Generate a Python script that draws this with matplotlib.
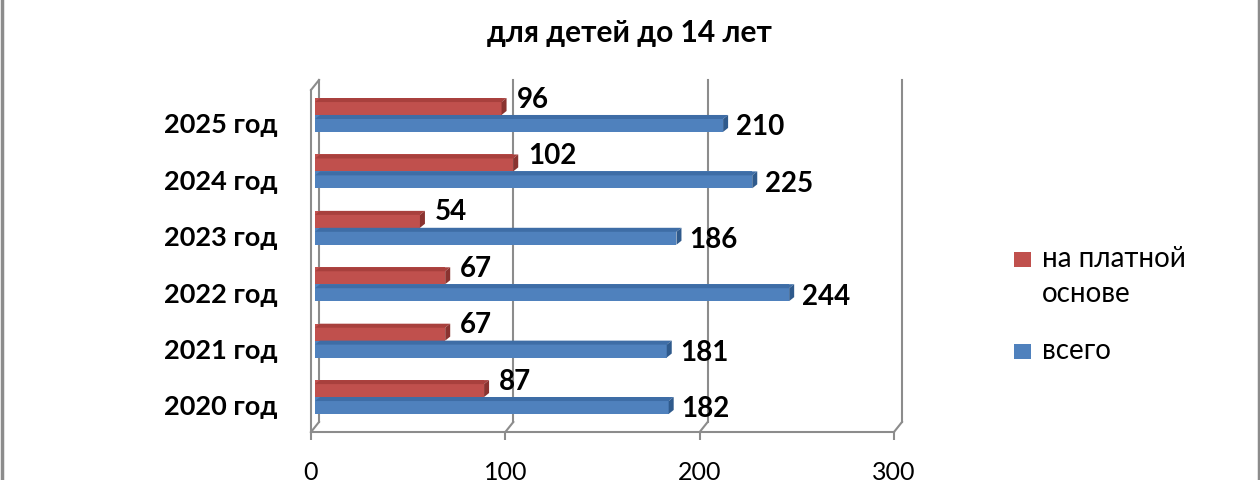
import matplotlib
matplotlib.use("Agg")
import matplotlib.pyplot as plt
from matplotlib.patches import Polygon, Rectangle
from matplotlib.lines import Line2D
from matplotlib.transforms import ScaledTranslation

categories = ["2020 год", "2021 год", "2022 год", "2023 год", "2024 год", "2025 год"]
paid = [87, 67, 67, 54, 102, 96]
total = [182, 181, 244, 186, 225, 210]
series_names = ["на платной\nоснове", "всего"]
x_ticks = [0, 100, 200, 300]
title_text = "для детей до 14 лет"

plt.rcParams['font.family'] = ['Lato', 'DejaVu Sans']

W, H = 1260, 480
fig = plt.figure(figsize=(12.6, 4.8), dpi=100)
ax_l, ax_r, ax_b, ax_t = 311, 894, 432, 80
ax = fig.add_axes([ax_l / W, (H - ax_b) / H, (ax_r - ax_l) / W, (ax_b - ax_t) / H])
ylo, yhi = -0.62, 5.62
ax.set_xlim(0, 300)
ax.set_ylim(ylo, yhi)
pxx = (ax_r - ax_l) / 300.0
pxy = (ax_b - ax_t) / (yhi - ylo)

grid_c = "#8c8c8c"
red_f, red_t, red_s = "#C0504D", "#A8403D", "#8A3330"
blue_f, blue_t, blue_s = "#4F81BD", "#3E6DA6", "#2F5A8C"

# walls / gridlines (3D look)
ddx, ddy = 8 / pxx, 10 / pxy
ytop_front = yhi - ddy
for v in x_ticks:
    ax.plot([v + ddx, v + ddx], [ylo + ddy, yhi], color=grid_c, lw=1.5, zorder=1, clip_on=False)
    ax.plot([v, v + ddx], [ylo, ylo + ddy], color=grid_c, lw=1.5, zorder=1, clip_on=False)
ax.plot([0, 0], [ylo, ytop_front], color=grid_c, lw=1.5, zorder=1, clip_on=False)
ax.plot([0, ddx], [ytop_front, yhi], color=grid_c, lw=1.5, zorder=1, clip_on=False)
ax.plot([0, 300], [ylo, ylo], color=grid_c, lw=1.5, zorder=1, clip_on=False)

# bars
shift = ScaledTranslation(4 / 100, 0, fig.dpi_scale_trans)
tr = ax.transData + shift
bh = 0.3
bdx, bdy = 5 / pxx, 4 / pxy
for i in range(len(categories)):
    for val, yc, cf, ct, cs in [(paid[i], i + bh / 2, red_f, red_t, red_s),
                                (total[i], i - bh / 2, blue_f, blue_t, blue_s)]:
        y0, y1 = yc - bh / 2, yc + bh / 2
        front = Polygon([(0, y0), (val, y0), (val, y1), (0, y1)], closed=True,
                        facecolor=cf, edgecolor="none", transform=tr, zorder=3)
        top = Polygon([(0, y1 - bdy), (val, y1 - bdy), (val + bdx, y1), (bdx, y1)], closed=True,
                      facecolor=ct, edgecolor="none", transform=tr, zorder=3.1)
        side = Polygon([(val, y0), (val + bdx, y0 + bdy), (val + bdx, y1), (val, y1 - bdy)], closed=True,
                       facecolor=cs, edgecolor="none", transform=tr, zorder=3.2)
        for p in (front, top, side):
            ax.add_patch(p)
    ax.annotate(str(paid[i]), (paid[i], i + bh / 2), xytext=(19 * 0.72, 7 * 0.72),
                textcoords="offset points", ha="left", va="center",
                fontsize=20, fontweight="bold", color="black", zorder=5)
    ax.annotate(str(total[i]), (total[i], i - bh / 2), xytext=(17 * 0.72, -4 * 0.72),
                textcoords="offset points", ha="left", va="center",
                fontsize=20, fontweight="bold", color="black", zorder=5)

for s in ax.spines.values():
    s.set_visible(False)
ax.set_xticks(x_ticks)
ax.set_xticklabels([str(t) for t in x_ticks], fontsize=18)
ax.tick_params(axis="x", length=8 * 0.72, width=1.5, color=grid_c, pad=15)
ax.set_yticks([i - bh / 2 for i in range(len(categories))])
ax.set_yticklabels(categories, fontsize=19.5, fontweight="bold")
ax.tick_params(axis="y", length=0, pad=33 * 0.72)

fig.text(629 / W, 1 - 33 / H, title_text, ha="center", va="center",
         fontsize=21.5, fontweight="bold")

# legend (manual placement)
leg_colors = [red_f, blue_f]
leg_y = [259, 351]
for c, yc, name in zip(leg_colors, leg_y, series_names):
    fig.add_artist(Rectangle(((1014) / W, 1 - (yc + 7.5) / H), 17 / W, 15 / H,
                             facecolor=c, edgecolor="none", transform=fig.transFigure))
    fig.text(1042 / W, 1 - (yc - 13) / H, name, ha="left", va="top",
             fontsize=20, linespacing=1.45, color="black")

for xb in (1.5, 1258.5):
    fig.add_artist(Line2D([xb / W, xb / W], [0, 1], color="#8c8c8c", lw=2.5))

fig.savefig("out.png", dpi=100)
